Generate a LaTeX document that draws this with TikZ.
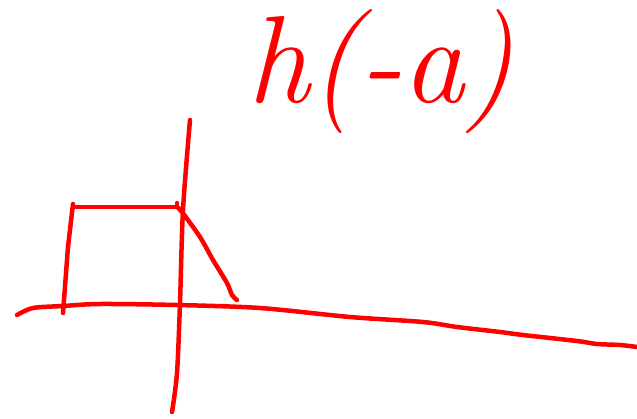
\documentclass[tikz,border=0pt]{standalone}
\usepackage{tikz}

\tikzset{trazo/.style={draw=red, line width=4.5pt, line cap=round, line join=round}}

\begin{document}
\begin{tikzpicture}[x=1pt, y=-1pt, line join=round]
    \useasboundingbox (0,0) rectangle (637,418);
    % titulo escrito a mano
    \node[text=red, inner sep=0pt, font=\fontsize{124}{130}\selectfont\itshape] (titulo) at (381,72) {h(-a)};
    % eje horizontal y eje vertical
    \draw[trazo] plot[smooth, tension=0.5] coordinates {(17,315) (33,308) (63,306) (100,304) (177,305) (260,308) (350,317) (423,322) (457,327) (500,332) (523,335) (577,341) (597,344) (620,345) (637,347)};
    \draw[trazo] plot[smooth, tension=0.5] coordinates {(190,120) (183,210) (180,303) (177,373) (172,412)};
    % figura: lado izquierdo, techo y bajada
    \coordinate (A) at (63,313); \coordinate (D) at (73,204);
    \coordinate (E) at (73,207); \coordinate (C) at (177,207);
    \draw[trazo] (A) -- (68,247) -- (D);
    \draw[trazo] (E) -- (C) -- (177,203);
    \draw[trazo] plot[smooth, tension=0.5] coordinates {(C) (182,212) (200,237) (213,260) (227,283) (232,295) (237,300)};
\end{tikzpicture}
\end{document}
